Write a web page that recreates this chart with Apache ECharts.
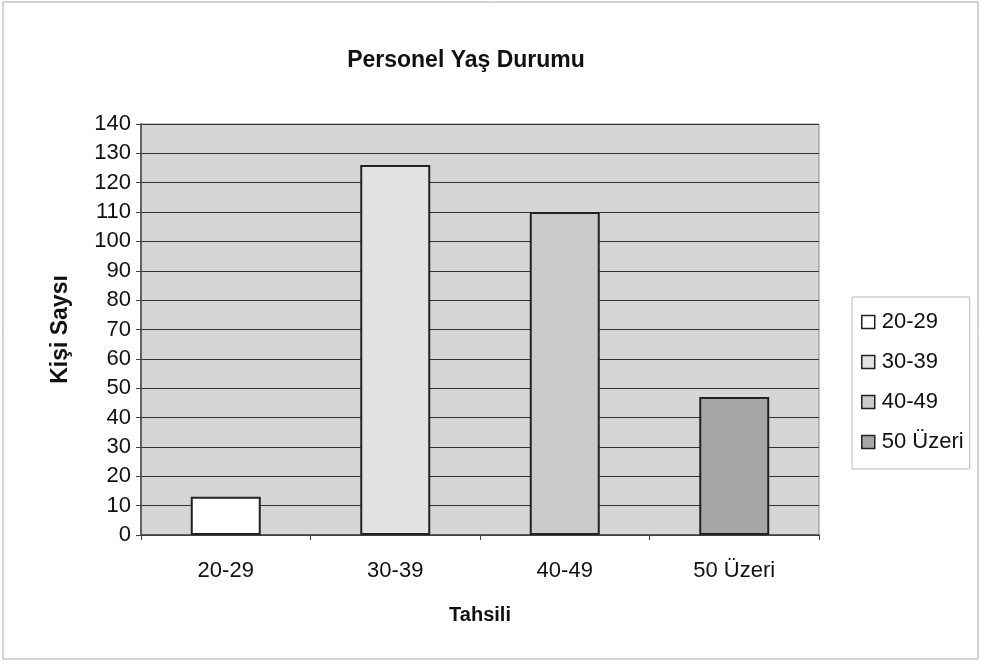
<!DOCTYPE html>
<html>
<head>
<meta charset="utf-8">
<script src="https://cdn.jsdelivr.net/npm/echarts@6/dist/echarts.min.js"></script>
<style>
  html, body { margin: 0; padding: 0; background: #fff; }
  #chart { width: 981px; height: 663px; }
</style>
</head>
<body>
<div id="chart"></div>
<script>
const categories = ['20-29', '30-39', '40-49', '50 Üzeri'];
const values = [13, 126, 110, 47];
const colors = ['#ffffff', '#e2e2e2', '#cbcbcb', '#a6a6a6'];
const yTicks = [0, 140, 10];

const chart = echarts.init(document.getElementById('chart'));

// one series per category so each gets its own legend entry
const series = categories.map((name, i) => ({
    name: name,
    type: 'bar',
    stack: 'all',
    barWidth: 70,
    data: categories.map((c, j) => (j === i ? values[i] : null)),
    itemStyle: {
        color: colors[i],
        borderColor: '#222',
        borderWidth: 2
    }
}));

const font = 'Liberation Sans, Arial, sans-serif';

chart.setOption({
    animation: false,
    backgroundColor: '#fff',
    title: {
        text: 'Personel Yaş Durumu',
        left: 461,
        top: 44,
        textAlign: 'center',
        textStyle: { fontFamily: font, fontSize: 23, fontWeight: 'bold', color: '#111' }
    },
    legend: {
        orient: 'vertical',
        left: 852,
        top: 297,
        itemWidth: 13,
        itemHeight: 13,
        itemGap: 18,
        icon: 'rect',
        padding: [14, 6, 16, 9],
        borderColor: '#bbb',
        borderWidth: 1,
        textStyle: { fontFamily: font, fontSize: 22, color: '#111', padding: [0, 0, 0, 2] },
        itemStyle: { borderColor: '#222', borderWidth: 1.5 }
    },
    grid: {
        left: 141,
        right: 162,
        top: 124,
        bottom: 128,
        show: true,
        backgroundColor: '#d6d6d6',
        borderColor: '#888',
        borderWidth: 1
    },
    xAxis: {
        type: 'category',
        data: categories,
        name: 'Tahsili',
        nameLocation: 'middle',
        nameGap: 70,
        nameTextStyle: { fontFamily: font, fontSize: 20, fontWeight: 'bold', color: '#111' },
        axisLine: { lineStyle: { color: '#444', width: 1.5 } },
        axisTick: { show: true, length: 5, lineStyle: { color: '#444' } },
        axisLabel: { fontFamily: font, fontSize: 22, color: '#111', margin: 25 }
    },
    yAxis: {
        type: 'value',
        min: yTicks[0],
        max: yTicks[1],
        interval: yTicks[2],
        name: 'Kişi Saysı',
        nameLocation: 'middle',
        nameGap: 69,
        nameTextStyle: { fontFamily: font, fontSize: 23, fontWeight: 'bold', color: '#111' },
        axisLine: { show: true, lineStyle: { color: '#444', width: 1.5 } },
        axisTick: { show: true, length: 5, lineStyle: { color: '#444' } },
        axisLabel: { fontFamily: font, fontSize: 22, color: '#111', margin: 10 },
        splitLine: { show: true, lineStyle: { color: '#333', width: 1 } }
    },
    graphic: [{
        type: 'rect',
        shape: { x: 3, y: 2, width: 975, height: 657 },
        style: { fill: null, stroke: '#aaa', lineWidth: 1 },
        silent: true
    }],
    series: series
});
</script>
</body>
</html>
